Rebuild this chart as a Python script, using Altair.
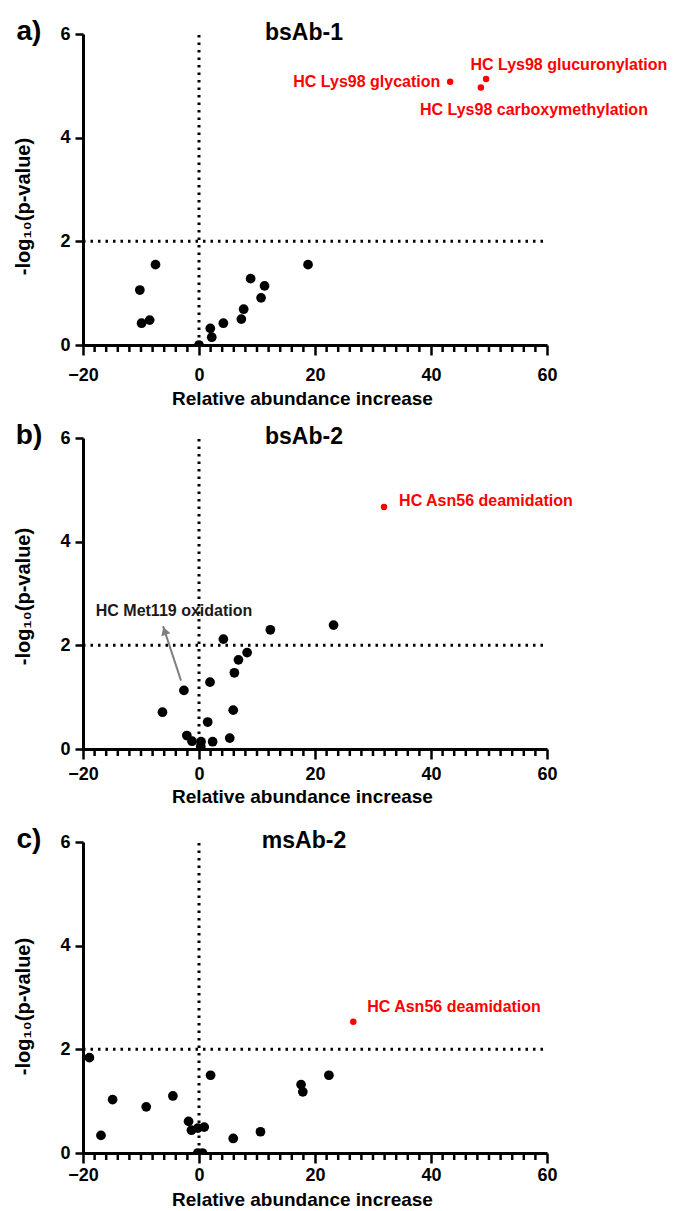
import math
import altair as alt
import pandas as pd

# ---------------- data ----------------
X_DOMAIN = [-20, 60]
Y_DOMAIN = [0, 6]
X_TICKS = [-20, 0, 20, 40, 60]
Y_TICKS = [0, 2, 4, 6]
MINOR_TICKS = [v for v in range(-20, 61, 2) if v % 20 != 0]
V_LINE_X = 0
H_LINE_Y = 2

# panel a) bsAb-1
A_X = [-10.2, -9.9, -8.5, -7.5, 0.0, 1.95, 2.2, 4.2, 7.3, 7.7, 8.9, 10.7, 11.3, 18.8]
A_Y = [1.06, 0.42, 0.48, 1.55, 0.0, 0.32, 0.15, 0.42, 0.50, 0.69, 1.28, 0.91, 1.14, 1.55]
A_SIG_X = [43.3, 49.5, 48.6]
A_SIG_Y = [5.08, 5.13, 4.97]
A_LAB_R = ["HC Lys98 glycation"]
A_LAB_R_X = [41.6]
A_LAB_R_Y = [5.08]
A_LAB_L = ["HC Lys98 glucuronylation", "HC Lys98 carboxymethylation"]
A_LAB_L_X = [46.8, 38.1]
A_LAB_L_Y = [5.40, 4.54]

# panel b) bsAb-2
B_X = [-6.3, -2.6, -2.1, -1.2, 0.35, 0.3, 1.5, 1.9, 2.35, 4.2, 5.3, 5.9, 6.1, 6.8, 8.3, 12.3, 23.2]
B_Y = [0.71, 1.13, 0.26, 0.15, 0.14, 0.05, 0.52, 1.29, 0.14, 2.12, 0.21, 0.75, 1.47, 1.72, 1.86, 2.30, 2.39]
B_SIG_X = [31.9]
B_SIG_Y = [4.67]
B_LAB_L = ["HC Asn56 deamidation"]
B_LAB_L_X = [34.5]
B_LAB_L_Y = [4.79]
B_NOTE = ["HC Met119 oxidation"]
B_NOTE_X = [-17.8]
B_NOTE_Y = [2.66]
B_ARROW_X = [-3.1, -6.2]
B_ARROW_Y = [1.32, 2.37]

# panel c) msAb-2
C_X = [-18.9, -16.9, -14.9, -9.1, -4.5, -1.8, -1.3, -0.2, 0.9, -0.2, 0.6, 2.0, 5.9, 10.6, 17.6, 17.9, 22.4]
C_Y = [1.84, 0.34, 1.03, 0.89, 1.10, 0.61, 0.44, 0.48, 0.50, 0.0, 0.0, 1.50, 0.28, 0.41, 1.32, 1.18, 1.50]
C_SIG_X = [26.6]
C_SIG_Y = [2.53]
C_LAB_L = ["HC Asn56 deamidation"]
C_LAB_L_X = [29.0]
C_LAB_L_Y = [2.82]

LETTERS = ["a)", "b)", "c)"]
TITLES = ["bsAb-1", "bsAb-2", "msAb-2"]

# ---------------- style ----------------
W, H = 464, 311
FONT = "Liberation Sans, Arial, sans-serif"
RED = "#ff0000"

XSCALE = alt.Scale(domain=X_DOMAIN, nice=False, zero=False)
YSCALE = alt.Scale(domain=Y_DOMAIN, nice=False, zero=False)
# per panel: (x labelPadding, x titlePadding, y title centre)
PADS = [(11, 5, 172), (6, 4, 158), (3, 6, 164)]


def make_panel(i, xs, ys, sx, sy, lab_left, lab_right=None, note=None, arrow=None):
    lp, tp, ty = PADS[i]
    xaxis = alt.Axis(values=X_TICKS, title="Relative abundance increase", tickSize=10,
                     labelPadding=lp, titlePadding=tp, grid=False, titleX=219)
    yaxis = alt.Axis(values=Y_TICKS, title="-log\u2081\u2080(p-value)", tickSize=8,
                     labelPadding=5, titlePadding=26, grid=False, titleFontSize=20, titleY=ty)

    def xe(field):
        return alt.X(f"{field}:Q", scale=XSCALE, axis=xaxis)

    def ye(field):
        return alt.Y(f"{field}:Q", scale=YSCALE, axis=yaxis)

    def text_layer(labels, lx, ly, align, color):
        df = pd.DataFrame({"x": lx, "y": ly, "t": labels})
        return alt.Chart(df).mark_text(
            align=align, baseline="middle", font=FONT, fontSize=16, fontWeight="bold", color=color
        ).encode(x=xe("x"), y=ye("y"), text="t:N")

    vline = alt.Chart(pd.DataFrame({"x": [V_LINE_X], "y": [Y_DOMAIN[0]], "y2": [Y_DOMAIN[1]]})).mark_rule(
        color="black", strokeWidth=3, strokeDash=[2.5, 5]
    ).encode(x=xe("x"), y=ye("y"), y2="y2:Q")
    hline = alt.Chart(pd.DataFrame({"y": [H_LINE_Y], "x": [X_DOMAIN[0]], "x2": [X_DOMAIN[1]]})).mark_rule(
        color="black", strokeWidth=3, strokeDash=[2.5, 5]
    ).encode(y=ye("y"), x=xe("x"), x2="x2:Q")
    minor = alt.Chart(pd.DataFrame({"x": MINOR_TICKS})).mark_tick(
        color="black", thickness=2.5, size=7, orient="vertical", opacity=1
    ).encode(x=xe("x"), y=alt.value(H + 3.5))
    pts = alt.Chart(pd.DataFrame({"x": xs, "y": ys})).mark_circle(
        size=95, color="black", opacity=1, clip=True
    ).encode(x=xe("x"), y=ye("y"))
    sig = alt.Chart(pd.DataFrame({"x": sx, "y": sy})).mark_circle(
        size=42, color=RED, opacity=1
    ).encode(x=xe("x"), y=ye("y"))
    layers = [vline, hline, minor, pts, sig]
    layers.append(text_layer(lab_left[0], lab_left[1], lab_left[2], "left", RED))
    if lab_right:
        layers.append(text_layer(lab_right[0], lab_right[1], lab_right[2], "right", RED))
    if arrow:
        ax, ay = arrow
        adf = pd.DataFrame({"x": [ax[0]], "y": [ay[0]], "x2": [ax[1]], "y2": [ay[1]]})
        layers.append(alt.Chart(adf).mark_rule(color="#7f7f7f", strokeWidth=2).encode(
            x=xe("x"), y=ye("y"), x2="x2:Q", y2="y2:Q"))
        dxp = (ax[1] - ax[0]) * W / (X_DOMAIN[1] - X_DOMAIN[0])
        dyp = -(ay[1] - ay[0]) * H / (Y_DOMAIN[1] - Y_DOMAIN[0])
        ang = math.degrees(math.atan2(dxp, -dyp)) % 360
        L = math.hypot(dxp, dyp)
        hdf = pd.DataFrame({"x": [ax[1]], "y": [ay[1]]})
        layers.append(alt.Chart(hdf).mark_point(
            shape="triangle-up", filled=True, size=90, color="#7f7f7f", opacity=1, angle=ang,
            xOffset=-dxp / L * 5, yOffset=-dyp / L * 5
        ).encode(x=xe("x"), y=ye("y")))
    if note:
        layers.append(text_layer(note[0], note[1], note[2], "left", "#1a1a1a"))
    title = alt.Chart(pd.DataFrame({"t": [TITLES[i]]})).mark_text(
        align="center", baseline="middle", font=FONT, fontSize=23, fontWeight="bold", color="black"
    ).encode(text="t:N", x=alt.value(221), y=alt.value(-1))
    letter = alt.Chart(pd.DataFrame({"t": [LETTERS[i]]})).mark_text(
        align="center", baseline="middle", font=FONT, fontSize=28, fontWeight="bold", color="black"
    ).encode(text="t:N", x=alt.value(-54), y=alt.value(-2))
    layers += [title, letter]
    return alt.layer(*layers).properties(width=W, height=H)


pa = make_panel(0, A_X, A_Y, A_SIG_X, A_SIG_Y, (A_LAB_L, A_LAB_L_X, A_LAB_L_Y),
                lab_right=(A_LAB_R, A_LAB_R_X, A_LAB_R_Y))
pb = make_panel(1, B_X, B_Y, B_SIG_X, B_SIG_Y, (B_LAB_L, B_LAB_L_X, B_LAB_L_Y),
                note=(B_NOTE, B_NOTE_X, B_NOTE_Y), arrow=(B_ARROW_X, B_ARROW_Y))
pc = make_panel(2, C_X, C_Y, C_SIG_X, C_SIG_Y, (C_LAB_L, C_LAB_L_X, C_LAB_L_Y))

chart = alt.vconcat(pa, pb, pc, spacing=93, bounds="flush").properties(
    padding={"left": 5, "top": 10, "right": 0, "bottom": 0}
).configure_view(stroke=None).configure_axis(
    domainColor="black", domainWidth=3, tickColor="black", tickWidth=2.5,
    labelFont=FONT, labelFontSize=18, labelFontWeight="bold", labelColor="black",
    titleFont=FONT, titleFontSize=19, titleFontWeight="bold", titleColor="black",
    labelFlush=False, labelOverlap=False
)

chart.save("out.html", embed_options={"renderer": "svg", "actions": False})
